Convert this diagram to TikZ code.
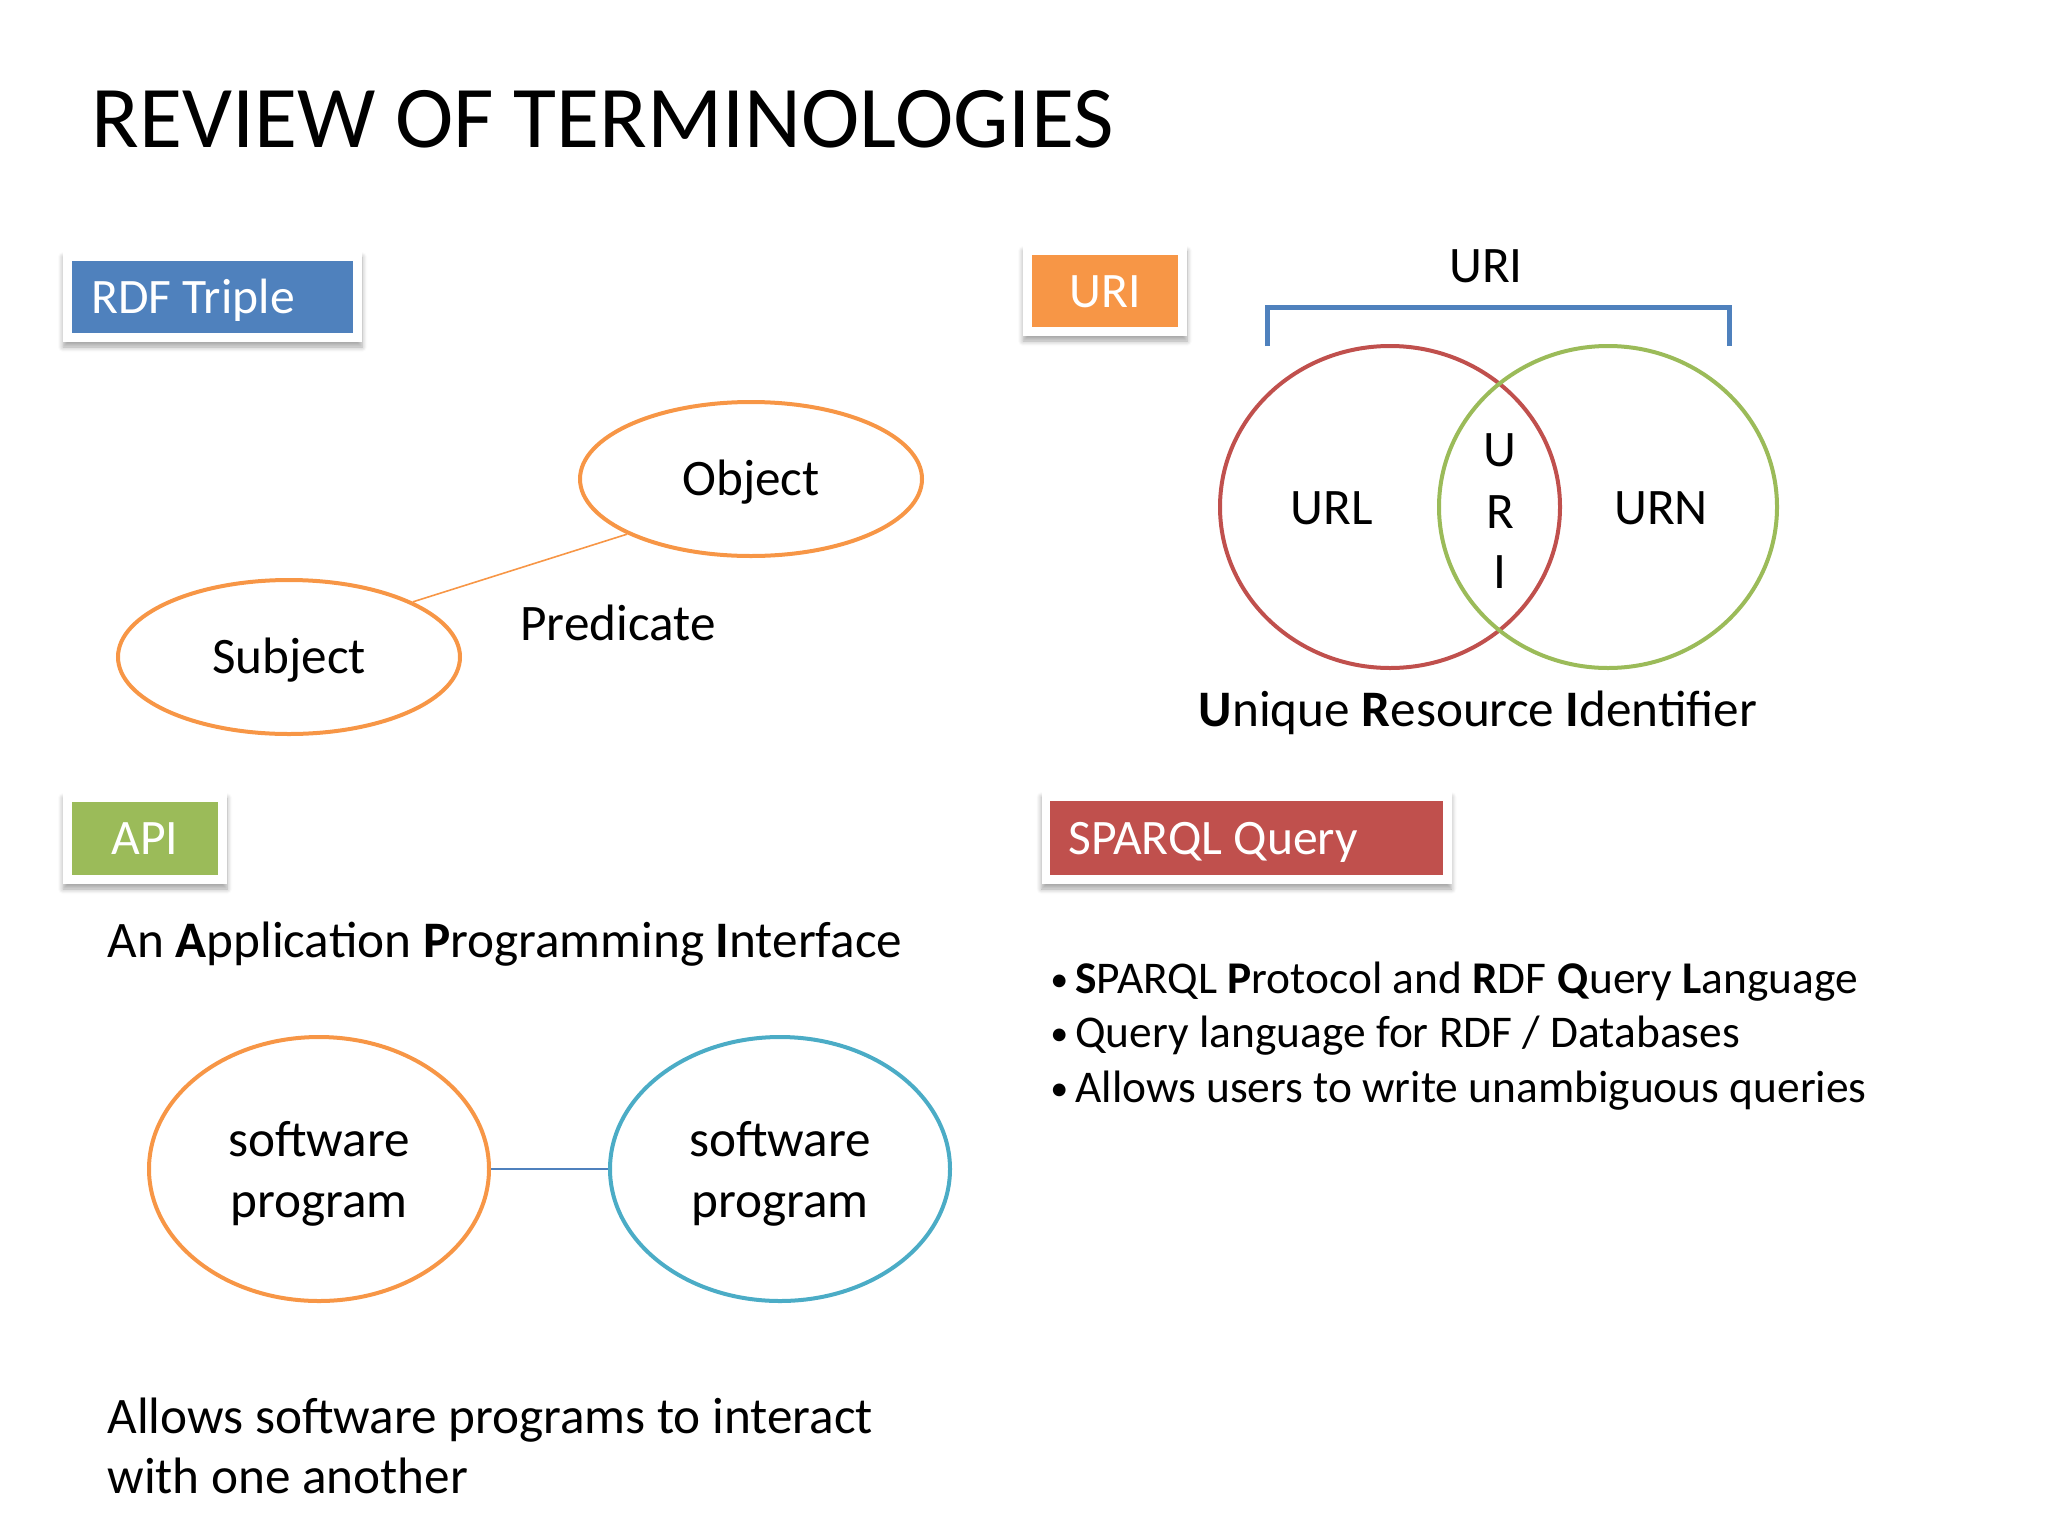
\documentclass[tikz,border=0pt]{standalone}
\usepackage{fontspec}
\setmainfont{Carlito}
\usetikzlibrary{shapes.geometric,shadows.blur}
\definecolor{obl}{HTML}{4F81BD}
\definecolor{oor}{HTML}{F79646}
\definecolor{ogr}{HTML}{9BBB59}
\definecolor{ore}{HTML}{C0504D}
\definecolor{oaq}{HTML}{4BACC6}
\tikzset{
  txt/.style={inner sep=0pt, font=\fontsize{25.6}{31}\selectfont},
  ctxt/.style={txt, text height=16.5pt, text depth=0pt},
  btxt/.style={inner sep=0pt, font=\fontsize{22.7}{28}\selectfont},
  frame/.style={fill=white, draw=none, blur shadow={shadow xshift=0pt, shadow yshift=-2.5pt, shadow blur steps=6, shadow blur radius=2.5pt, shadow opacity=35}},
  hdrbox/.style={inner sep=0pt, draw=none},
  hdr/.style={inner sep=0pt, text=white, font=\fontsize{24.8}{28}\selectfont, text height=16pt, text depth=0pt},
  oval/.style={ellipse, inner sep=0pt, line width=2pt},
}
\begin{document}
\begin{tikzpicture}[x=0.5pt,y=-0.5pt]
\useasboundingbox (0,0) rectangle (2048,1536);
% title
\node[anchor=base west, inner sep=0pt, font=\fontsize{44}{50}\selectfont] (title) at (91,148) {REVIEW OF TERMINOLOGIES};

% ---- RDF Triple
\node[frame, minimum width=149.5pt, minimum height=45pt] (rdff) at (212.5,297) {};
\node[hdrbox, fill=obl, minimum width=140.5pt, minimum height=36pt] (rdf) at (212.5,297) {};
\node[hdr, anchor=west] (rdft) at (91,297) {RDF Triple};
\node[oval, draw=oor, minimum width=171pt, minimum height=77pt] (obj) at (751,479) {};
\node[ctxt] (objt) at (751,479) {Object};
\node[oval, draw=oor, minimum width=171pt, minimum height=77pt] (subj) at (289,657) {};
\node[ctxt] (subjt) at (289,657) {Subject};
\draw[oor, line width=0.8pt] (subj.24.7) -- (obj.204);
\node[txt, anchor=base] (pred) at (618,640) {Predicate};

% ---- URI
\node[frame, minimum width=82pt, minimum height=45pt] (urif) at (1105,291) {};
\node[hdrbox, fill=oor, minimum width=73pt, minimum height=36pt] (uri) at (1105,291) {};
\node[hdr] (urit) at (1105,291) {URI};
\node[txt, anchor=base] (urilab) at (1486,282) {URI};
\coordinate (bl) at (1267,346);
\coordinate (br) at (1729,346);
\draw[obl, line width=2.5pt, line join=miter] (bl) -- ++(0,-39) -| (br);
\node[ellipse, draw=ore, line width=2pt, minimum width=170pt, minimum height=161pt, inner sep=0pt] (url) at (1390,507) {};
\node[ellipse, draw=ogr, line width=2pt, minimum width=169pt, minimum height=161pt, inner sep=0pt] (urn) at (1608,507) {};
\node[txt, anchor=base] (urlt) at (1332,524) {URL};
\node[txt, anchor=base] (urnt) at (1661,524) {URN};
\node[txt, anchor=base] (u1) at (1500,466) {U};
\node[txt, anchor=base] (u2) at (1500,528) {R};
\node[txt, anchor=base] (u3) at (1500,588) {I};
\node[txt, anchor=base] (uri2) at (1478,726) {\textbf{U}nique \textbf{R}esource \textbf{I}dentifier};

% ---- API
\node[frame, minimum width=82pt, minimum height=45.5pt] (apif) at (145,838.5) {};
\node[hdrbox, fill=ogr, minimum width=73pt, minimum height=36.5pt] (api) at (145,838.5) {};
\node[hdr] (apit0) at (145,838.5) {API};
\node[txt, anchor=base west] (apit) at (107,957) {An \textbf{A}pplication \textbf{P}rogramming \textbf{I}nterface};
\node[oval, draw=oor, minimum width=170pt, minimum height=132pt] (sp1) at (319,1169) {};
\node[txt, align=center, font=\fontsize{25.6}{30.7}\selectfont] (sp1t) at (319,1174) {software\\program};
\node[oval, draw=oaq, minimum width=170pt, minimum height=132pt] (sp2) at (780,1169) {};
\node[txt, align=center, font=\fontsize{25.6}{30.7}\selectfont] (sp2t) at (780,1174) {software\\program};
\draw[obl, line width=0.8pt] (sp1.east) -- (sp2.west);
\node[txt, anchor=base west] (al1) at (107,1433) {Allows software programs to interact};
\node[txt, anchor=base west] (al2) at (107,1493) {with one another};

% ---- SPARQL
\node[frame, minimum width=205pt, minimum height=46pt] (spf) at (1246.5,838) {};
\node[hdrbox, fill=ore, minimum width=196.5pt, minimum height=37pt] (sparql) at (1246.5,838) {};
\node[hdr, anchor=west] (sparqlt) at (1068,838) {SPARQL Query};
\node[inner sep=0pt, anchor=base west, font=\fontsize{18}{20}\selectfont] (b1) at (1050,991) {•};
\node[btxt, anchor=base west] (l1) at (1075,993) {\textbf{S}PARQL \textbf{P}rotocol and \textbf{R}DF \textbf{Q}uery \textbf{L}anguage};
\node[inner sep=0pt, anchor=base west, font=\fontsize{18}{20}\selectfont] (b2) at (1050,1045) {•};
\node[btxt, anchor=base west] (l2) at (1075,1047) {Query language for RDF / Databases};
\node[inner sep=0pt, anchor=base west, font=\fontsize{18}{20}\selectfont] (b3) at (1050,1100) {•};
\node[btxt, anchor=base west] (l3) at (1075,1102) {Allows users to write unambiguous queries};
\end{tikzpicture}
\end{document}
